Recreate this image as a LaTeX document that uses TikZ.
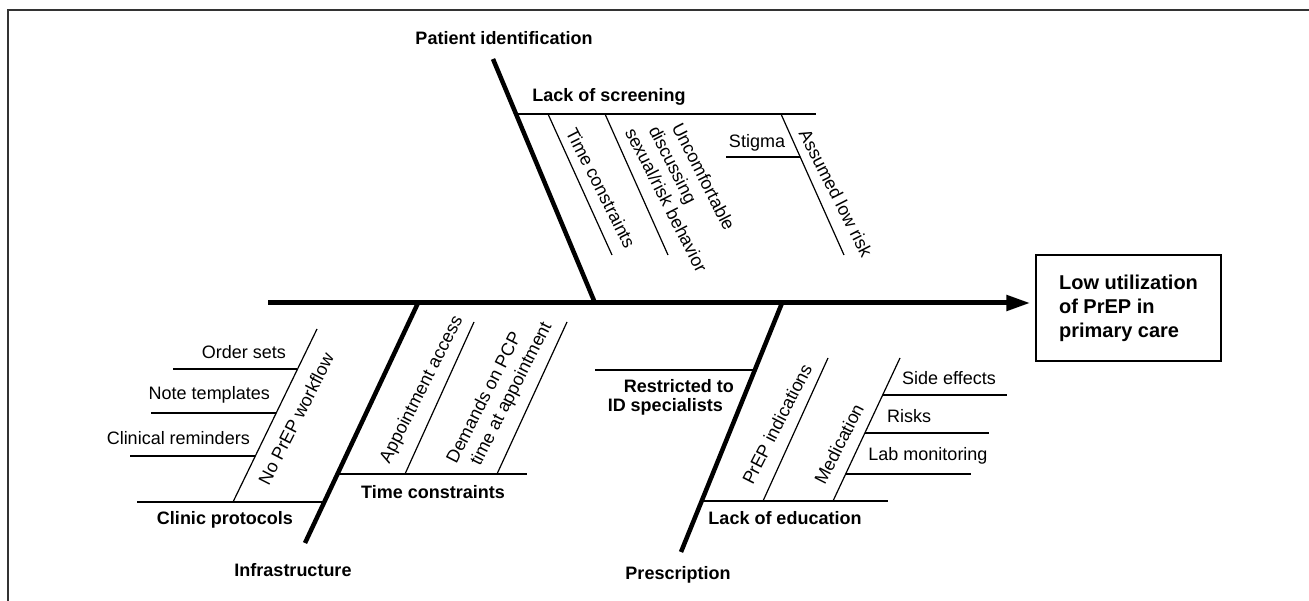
\documentclass[tikz,border=0pt]{standalone}
\usepackage{fontspec}
\setmainfont{Liberation Sans}
\usepackage{tikz}
\usetikzlibrary{arrows.meta}

\tikzset{
	spine/.style={line width=5pt,-{Triangle[length=24pt,width=15pt]},shorten >=5pt},
	bone/.style={line width=4.5pt},
	twig/.style={line width=1.2pt},
	frame/.style={line width=1.5pt,black!80},
	cat/.style={inner sep=0pt,font=\fontsize{18}{22}\selectfont\bfseries},
	sub/.style={inner sep=0pt,font=\fontsize{18}{22}\selectfont\bfseries},
	leaf/.style={inner sep=0pt,font=\fontsize{18}{22}\selectfont},
	effect/.style={draw,line width=1.3pt,minimum width=185pt,minimum height=106pt,inner xsep=22pt,align=left,font=\fontsize{20}{24}\selectfont\bfseries}
}

\begin{document}
\begin{tikzpicture}[x=1pt,y=-1pt]
	\useasboundingbox (0,0) rectangle (1309,601);
	\draw[frame] (8,601) -- (8,10) -- (1309,10);

	\node[effect] (eff) at (1128.5,308) {Low utilization\\of PrEP in\\primary care};
	\coordinate (tail) at (268,303);
	\draw[spine] (tail) -- (tail -| eff.west);

	\draw[bone] (493,59) -- (595,303);
	\node[cat] (pid) at (504,38) {Patient identification};
	\draw[twig] (516,114) -- (816,114);
	\node[sub] (lscr) at (609,97) {Lack of screening};
	\draw[twig] (548,114) -- (612,255);
	\draw[twig] (605,114) -- (668,255);
	\draw[twig] (781,114) -- (844,255);
	\draw[twig] (726,157) -- (800,157);
	\node[leaf,rotate=-63] (tcon) at (601,188) {Time constraints};
	\node[leaf,rotate=-63,align=left] (unc) at (686,190) {\hspace*{17pt}Uncomfortable\\\hspace*{9pt}discussing\\sexual/risk behavior};
	\node[leaf] (stig) at (757,143) {Stigma};
	\node[leaf,rotate=-63] (alow) at (836,193) {Assumed low risk};

	\draw[bone] (418,303) -- (305,543);
	\node[cat] (infra) at (293,570) {Infrastructure};
	\draw[twig] (137,502) -- (324,502);
	\node[sub] (cprot) at (225,520) {Clinic protocols};
	\draw[twig] (233,502) -- (317,329);
	\draw[twig] (173,369) -- (297,369);
	\draw[twig] (151,413) -- (276,413);
	\draw[twig] (130,456) -- (255,456);
	\node[leaf,rotate=63] (nowf) at (296,419) {No PrEP workflow};
	\node[leaf,anchor=east] (oset) at (286,352) {Order sets};
	\node[leaf,anchor=east] (ntpl) at (270,395) {Note templates};
	\node[leaf,anchor=east] (crem) at (250,438) {Clinical reminders};
	\draw[twig] (339,474) -- (527,474);
	\node[sub] (tcon2) at (433,492) {Time constraints};
	\draw[twig] (405,474) -- (474,322);
	\draw[twig] (497,474) -- (567,322);
	\node[leaf,rotate=63] (appt) at (422,390) {Appointment access};
	\node[leaf,rotate=63,align=left] (dem) at (500,393) {Demands on PCP\\\hspace*{9pt}time at appointment};

	\draw[bone] (782,303) -- (681,552);
	\node[cat] (presc) at (678,575) {Prescription};
	\draw[twig] (595,370) -- (755,370);
	\node[sub,anchor=east] (rest) at (734,386) {Restricted to};
	\node[sub,anchor=east] (idsp) at (723,407) {ID specialists};
	\draw[twig] (702,501) -- (888,501);
	\node[sub] (ledu) at (785,518) {Lack of education};
	\draw[twig] (763,501) -- (828,358);
	\draw[twig] (833,501) -- (900,358);
	\node[leaf,rotate=63] (pind) at (777,424) {PrEP indications};
	\node[leaf,rotate=63] (med) at (839,444) {Medication};
	\draw[twig] (883,395) -- (1007,395);
	\draw[twig] (865,433) -- (989,433);
	\draw[twig] (846,474) -- (971,474);
	\node[leaf] (side) at (949,378) {Side effects};
	\node[leaf,anchor=west] (risk) at (887,416) {Risks};
	\node[leaf] (lab) at (928,456) {Lab monitoring};
\end{tikzpicture}
\end{document}
